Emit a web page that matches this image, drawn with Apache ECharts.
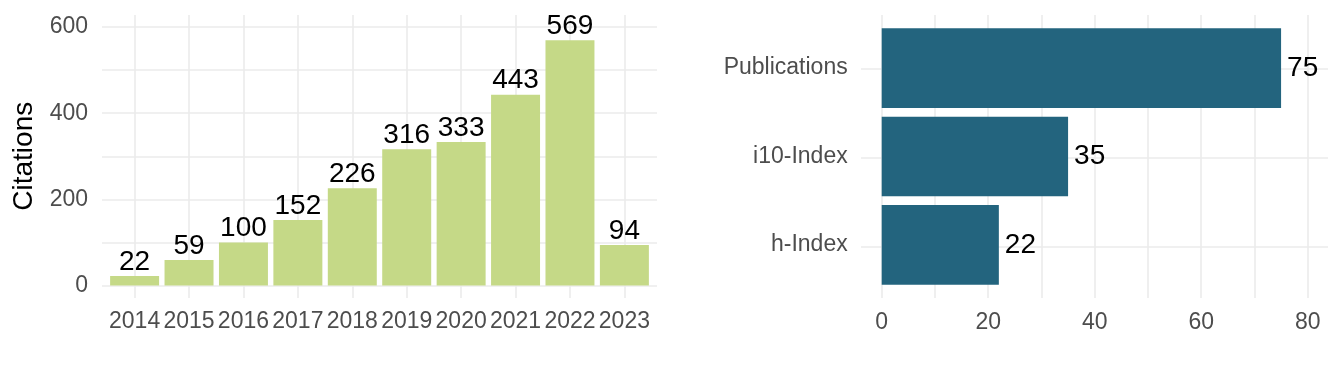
<!DOCTYPE html>
<html><head><meta charset="utf-8">
<script src="https://cdn.jsdelivr.net/npm/echarts@6/dist/echarts.min.js"></script>
<style>html,body{margin:0;padding:0;background:#fff}#c{width:1344px;height:384px}</style>
</head><body><div id="c"></div>
<script>
const years = ['2014','2015','2016','2017','2018','2019','2020','2021','2022','2023'];
const citations = [22, 59, 100, 152, 226, 316, 333, 443, 569, 94];
const citationTicks = [0, 200, 400, 600];
const metricNames = ['h-Index', 'i10-Index', 'Publications'];
const metricValues = [22, 35, 75];
const metricTicks = [0, 20, 40, 60, 80];

const FONT = "'Liberation Sans', Arial, sans-serif";
const GRID = '#EBEBEB';
const TXT = '#4D4D4D';
const gl = {show: true, lineStyle: {color: GRID, width: 1.6}};
const hid = {show: false};

const chart = echarts.init(document.getElementById('c'), null, {renderer: 'canvas'});
chart.setOption({
  animation: false,
  backgroundColor: '#fff',
  textStyle: {fontFamily: FONT},
  grid: [
    {left: 102, top: 27, width: 555, height: 258.5},
    {left: 107.4, top: 27, width: 544.2, height: 258.5},
    {left: 134.6, top: 15, width: 489.8, height: 283},
    {left: 881.7, top: 15, width: 426, height: 283},
    {left: 861, top: 68.3, width: 467, height: 178.4},
    {left: 881.7, top: 23.9, width: 426, height: 265.2}
  ],
  xAxis: [
    {gridIndex: 0, type: 'value', show: false, min: 0, max: 1},
    {gridIndex: 1, type: 'category', data: years,
      axisLine: hid, axisTick: hid, splitLine: hid,
      axisLabel: {interval: 0, color: TXT, fontSize: 23, fontFamily: FONT, margin: 25}},
    {gridIndex: 2, type: 'value', min: 1, max: years.length, interval: 1,
      axisLine: hid, axisTick: hid, axisLabel: hid, splitLine: gl},
    {gridIndex: 3, type: 'value', min: 0, max: 80, interval: 10,
      axisLine: hid, axisTick: hid, splitLine: gl,
      axisLabel: {color: TXT, fontSize: 23, fontFamily: FONT, margin: 13,
        formatter: v => metricTicks.includes(v) ? String(v) : ''}},
    {gridIndex: 4, type: 'value', show: false, min: 0, max: 1},
    {gridIndex: 5, type: 'value', min: 0, max: 80, show: false}
  ],
  yAxis: [
    {gridIndex: 0, type: 'value', min: 0, max: 600, interval: 100,
      axisLine: hid, axisTick: hid, splitLine: gl,
      axisLabel: {color: TXT, fontSize: 23, fontFamily: FONT, margin: 14,
        formatter: v => citationTicks.includes(v) ? String(v) : ''},
      name: 'Citations', nameLocation: 'middle', nameRotate: 90, nameGap: 64,
      nameTextStyle: {color: '#000', fontSize: 28, fontFamily: FONT}},
    {gridIndex: 1, type: 'value', min: 0, max: 600, show: false},
    {gridIndex: 2, type: 'value', show: false, min: 0, max: 1},
    {gridIndex: 3, type: 'value', show: false, min: 0, max: 1},
    {gridIndex: 4, type: 'value', min: 1, max: metricNames.length, interval: 1,
      axisLine: hid, axisTick: hid, axisLabel: hid, splitLine: gl},
    {gridIndex: 5, type: 'category', data: metricNames,
      axisLine: hid, axisTick: hid, splitLine: hid,
      axisLabel: {interval: 0, color: TXT, fontSize: 23, fontFamily: FONT, margin: 34}}
  ],
  series: [
    {type: 'bar', xAxisIndex: 1, yAxisIndex: 1, data: citations, barWidth: '90%',
      itemStyle: {color: '#C5D987'},
      label: {show: true, position: 'top', distance: 0, color: '#000', fontSize: 28, fontFamily: FONT}},
    {type: 'bar', xAxisIndex: 5, yAxisIndex: 5, data: metricValues, barWidth: '90%',
      itemStyle: {color: '#23647E'},
      label: {show: true, position: 'right', distance: 6, color: '#000', fontSize: 28, fontFamily: FONT}}
  ]
});
</script></body></html>
